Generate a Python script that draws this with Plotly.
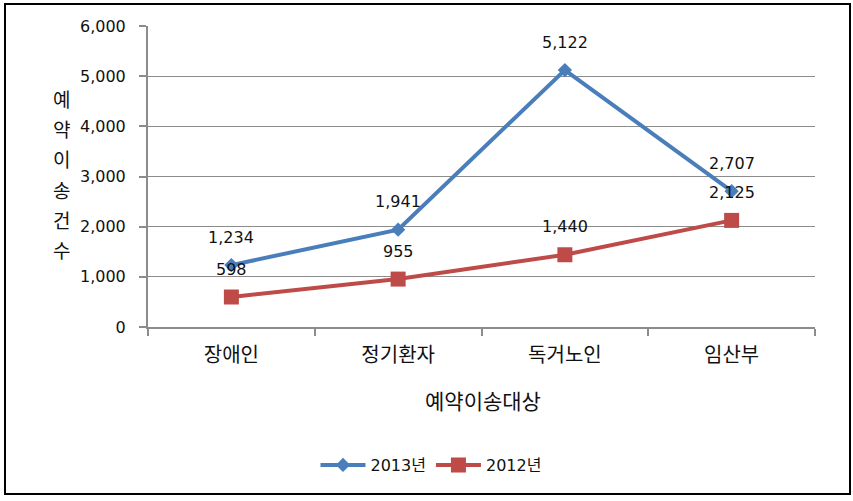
import plotly.graph_objects as go

categories = ["장애인", "정기환자", "독거노인", "임산부"]
values_2013 = [1234, 1941, 5122, 2707]
values_2012 = [598, 955, 1440, 2125]
series_names = ["2013년", "2012년"]
y_ticks = [0, 1000, 2000, 3000, 4000, 5000, 6000]
y_title_chars = ["예", "약", "이", "송", "건", "수"]
x_title = "예약이송대상"

BLUE = "#4A7EBB"
RED = "#BE4B48"
GRID = "#8C8C8C"
FONT = "DejaVu Sans, Noto Sans CJK KR, sans-serif"

fig = go.Figure()
fig.add_trace(go.Scatter(
    x=categories, y=values_2013, name=series_names[0], mode="lines+markers",
    line=dict(color=BLUE, width=4), marker=dict(symbol="diamond", size=11, color=BLUE),
))
fig.add_trace(go.Scatter(
    x=categories, y=values_2012, name=series_names[1], mode="lines+markers",
    line=dict(color=RED, width=4), marker=dict(symbol="square", size=15, color=RED),
))

annotations = []
for vals in (values_2013, values_2012):
    for c, v in zip(categories, vals):
        annotations.append(dict(
            x=c, y=v, xref="x", yref="y", text=f"{v:,}", showarrow=False,
            yshift=28, font=dict(family=FONT, size=16, color="#111111"),
        ))

# vertical y-axis title, one character per line
y_pix = [100, 130, 160, 191, 221, 251]
for ch, yp in zip(y_title_chars, y_pix):
    annotations.append(dict(
        x=(62 - 148) / 667, y=(327 - yp) / 301, xref="paper", yref="paper",
        text=ch, showarrow=False, xanchor="center", yanchor="middle",
        font=dict(family=FONT, size=19, color="#111111"),
    ))

annotations.append(dict(
    x=(483 - 148) / 667, y=(327 - 402) / 301, xref="paper", yref="paper",
    text=x_title, showarrow=False, xanchor="center", yanchor="middle",
    font=dict(family=FONT, size=21, color="#111111"),
))

fig.update_layout(
    width=853, height=501,
    margin=dict(l=148, r=38, t=26, b=174),
    paper_bgcolor="white", plot_bgcolor="white",
    font=dict(family=FONT, size=16, color="#111111"),
    showlegend=True,
    legend=dict(
        orientation="h", x=(431 - 148) / 667, y=(327 - 465) / 301,
        xanchor="center", yanchor="middle", itemwidth=45,
        font=dict(family=FONT, size=16, color="#111111"),
        bgcolor="rgba(0,0,0,0)",
    ),
    annotations=annotations,
    shapes=[dict(
        type="rect", xref="paper", yref="paper",
        x0=(5 - 148) / 667, x1=(850 - 148) / 667,
        y0=(327 - 494) / 301, y1=(327 - 4) / 301,
        line=dict(color="black", width=2), fillcolor="rgba(0,0,0,0)", layer="below",
    )],
)

fig.update_xaxes(
    type="category", categoryorder="array", categoryarray=categories,
    range=[-0.5, len(categories) - 0.5],
    tickson="boundaries", ticks="outside", ticklen=7, tickcolor=GRID, tickwidth=2,
    showline=True, linecolor=GRID, linewidth=2, showgrid=False,
    ticklabelstandoff=9,
    tickfont=dict(family=FONT, size=20, color="#111111"),
)
fig.update_yaxes(
    range=[0, 6000], tickvals=y_ticks, tickformat=",", ticks="outside", ticklen=7,
    tickcolor=GRID, tickwidth=2, showline=True, linecolor=GRID, linewidth=2,
    showgrid=True, gridcolor=GRID, gridwidth=1, zeroline=False,
    ticklabelstandoff=10,
    tickfont=dict(family=FONT, size=16, color="#111111"),
)

fig.write_html("out.html")
